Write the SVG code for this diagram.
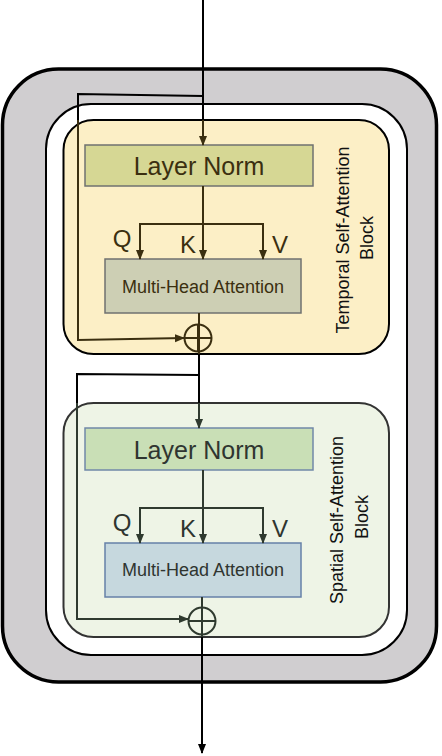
<svg xmlns="http://www.w3.org/2000/svg" width="442" height="756" viewBox="0 0 442 756">
<style>
text{font-family:"Liberation Sans",Arial,sans-serif}
.ln{font-size:25px;text-anchor:middle}
.mha{font-size:18px;text-anchor:middle}
.qkv{font-size:24px;text-anchor:middle}
.side{font-size:18px;text-anchor:middle;fill:#111}
.c1{stroke:#3B2F10;stroke-width:2;fill:none}
.c2{stroke:#2F3A2F;stroke-width:2;fill:none}
.k{stroke:#000;stroke-width:2;fill:none}
</style>
<defs>
<marker id="a1" markerWidth="10" markerHeight="10" refX="9" refY="5" orient="auto" markerUnits="userSpaceOnUse"><path d="M0,1 L10,5 L0,9 Z" fill="#3B2F10"/></marker>
<marker id="a2" markerWidth="10" markerHeight="10" refX="9" refY="5" orient="auto" markerUnits="userSpaceOnUse"><path d="M0,1 L10,5 L0,9 Z" fill="#2F3A2F"/></marker>
<marker id="a0" markerWidth="10" markerHeight="10" refX="9" refY="5" orient="auto" markerUnits="userSpaceOnUse"><path d="M0,1 L10,5 L0,9 Z" fill="#000"/></marker>
</defs>
<g id="outer"><rect x="2.5" y="69" width="434" height="613" rx="56" fill="#D0CED0" stroke="#000" stroke-width="3.5"/></g>
<g id="inner"><rect x="46" y="104" width="361" height="551" rx="45" fill="#fff" stroke="#000" stroke-width="2"/></g>
<g id="temporal-block">
<rect x="63.5" y="120" width="325.5" height="234" rx="30" fill="#FCEFC6" stroke="#000" stroke-width="2"/>
<text class="side" transform="translate(349,240) rotate(-90)">Temporal Self-Attention</text>
<text class="side" transform="translate(373,238) rotate(-90)">Block</text>
</g>
<g id="spatial-block">
<rect x="63.5" y="403" width="325.5" height="234" rx="30" fill="#EEF4E6" stroke="#333" stroke-width="2"/>
<text class="side" transform="translate(343,520) rotate(-90)">Spatial Self-Attention</text>
<text class="side" transform="translate(368,517) rotate(-90)">Block</text>
</g>
<g id="ln1"><rect x="85" y="145" width="228" height="41" fill="#D6D794" stroke="#6F7270" stroke-width="1.5"/><text class="ln" x="199" y="175" fill="#3B2F10">Layer Norm</text></g>
<g id="mha1"><rect x="105" y="259" width="196" height="54" fill="#CDCFB4" stroke="#6F7270" stroke-width="1.5"/><text class="mha" x="203" y="293" fill="#3B2F10">Multi-Head Attention</text></g>
<g id="ln2"><rect x="85" y="428" width="228" height="42" fill="#C9DFB6" stroke="#7088A8" stroke-width="1.5"/><text class="ln" x="199" y="459" fill="#2F3530">Layer Norm</text></g>
<g id="mha2"><rect x="105" y="543" width="196" height="54" fill="#C6D8DE" stroke="#6680A8" stroke-width="1.5"/><text class="mha" x="203" y="576" fill="#2F3530">Multi-Head Attention</text></g>
<g id="add1"><circle cx="198" cy="338" r="13.5" fill="none" stroke="#3B2F10" stroke-width="2"/><path class="c1" d="M184.5,338 H211.5 M198,324.5 V351.5"/></g>
<g id="add2"><circle cx="202" cy="621" r="13.5" fill="none" stroke="#2F3A2F" stroke-width="2"/><path class="c2" d="M188.5,621 H215.5 M202,607.5 V634.5"/></g>
<g id="labels">
<text class="qkv" x="122" y="247" fill="#3B2F10">Q</text>
<text class="qkv" x="188" y="253" fill="#3B2F10">K</text>
<text class="qkv" x="280" y="253" fill="#3B2F10">V</text>
<text class="qkv" x="122" y="531" fill="#2F3530">Q</text>
<text class="qkv" x="188" y="537" fill="#2F3530">K</text>
<text class="qkv" x="280" y="537" fill="#2F3530">V</text>
</g>
<g id="connectors">
<path class="k" d="M203,0 V120"/>
<path class="c1" d="M203,120 V145" marker-end="url(#a1)"/>
<path class="k" d="M203,96 L78,94 V120"/>
<path class="c1" d="M78,120 V340 L184,338" marker-end="url(#a1)"/>
<path class="c1" d="M203,186 V259" marker-end="url(#a1)"/>
<path class="c1" d="M140,259 V224 H263 V259" marker-end="url(#a1)"/>
<path class="c1" d="M140,224 V259" marker-end="url(#a1)"/>
<path class="c1" d="M199,313 V354"/>
<path class="k" d="M199,354 V403"/>
<path class="k" d="M199,375 L77,374 V403"/>
<path class="c2" d="M199,403 V428" marker-end="url(#a2)"/>
<path class="c2" d="M77,403 V619 H188" marker-end="url(#a2)"/>
<path class="c2" d="M203,470 V543" marker-end="url(#a2)"/>
<path class="c2" d="M140,543 V508 H263 V543" marker-end="url(#a2)"/>
<path class="c2" d="M140,508 V543" marker-end="url(#a2)"/>
<path class="c2" d="M202,597 V637"/>
<path class="k" d="M202,637 V753" marker-end="url(#a0)"/>
</g>
</svg>
